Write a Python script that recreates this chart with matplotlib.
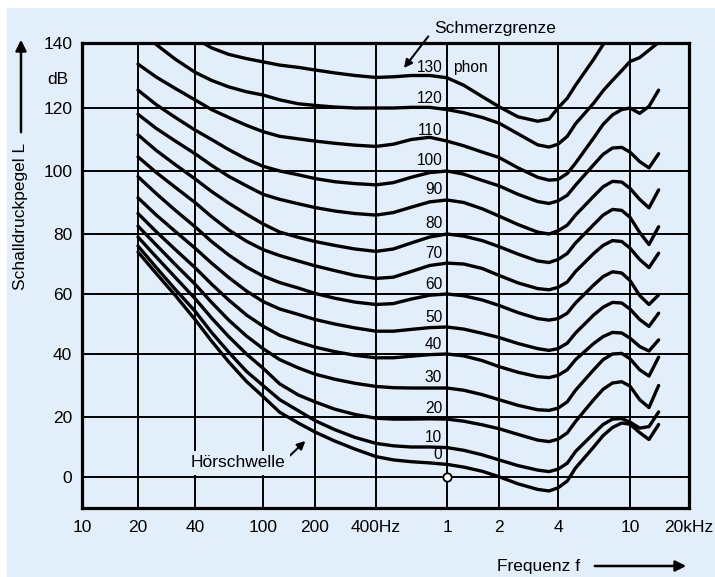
import numpy as np
import matplotlib
matplotlib.use("Agg")
import matplotlib.pyplot as plt
from matplotlib.patches import Rectangle, FancyArrowPatch

plt.rcParams['font.family'] = ['Liberation Sans', 'DejaVu Sans']

# ---------------- data ----------------
FREQ = [20, 25, 31.5, 40, 50, 63, 80, 100, 125, 160, 200, 250, 315, 400, 500, 630, 800,
        1000, 1250, 1600, 2000, 2500, 3150, 3600, 4000, 4500, 5000, 6300, 7100, 8000, 9000,
        10000, 11200, 12500, 14000]

L130 = [154, 150, 146, 141.5, 138.5, 136.5, 135.2, 134.2, 133.2, 132.5, 131.7, 130.8, 130, 129.4,
        129.6, 130, 130, 129.3, 127, 123.5, 120.4, 117.2, 115.8, 116.5, 120, 123, 127, 135, 139.5,
        144, 148, 152, 155, 158, 160]
L120 = [144, 139.5, 135, 131, 128.5, 126.5, 125, 124, 122.5, 121.3, 120.8, 120.3, 120, 120, 120,
        120.2, 120.2, 119.5, 118.5, 117, 115.2, 111.8, 108.3, 107.6, 108.5, 111, 115, 121.5, 125.3,
        128.5, 131.5, 134.3, 135.5, 137.8, 140.2]
L110 = [133.5, 129.5, 126, 122.5, 119.5, 117, 114.5, 112.5, 111, 110.2, 109.5, 108.8, 108.2, 107.8,
        108.5, 110, 110.7, 109.5, 108, 106, 104.3, 101, 98, 97.1, 97.3, 99.2, 102.5, 110.5, 114.8,
        117.8, 119.5, 120, 118.3, 120.5, 125.5]
L100 = [125.5, 121, 117, 113, 110, 106.8, 103.8, 101.5, 100, 98.8, 97.6, 96.6, 96, 95.6, 96.3, 98,
        99.5, 100, 99, 97, 95.3, 92.6, 90.3, 89.7, 90.5, 92.3, 95.5, 102, 105.3, 107.3, 107.5, 106,
        103, 101, 105.5]
L90 = [118, 113.5, 109.5, 105.5, 101.8, 98.3, 95.3, 92.6, 91, 89.6, 88.4, 87.3, 86.5, 86, 86.8,
       88.5, 90.2, 90.8, 90, 88, 85.7, 83, 80.6, 80, 81, 82.8, 86, 92, 95, 96.7, 96.5, 94.5, 91,
       88.3, 94]
L80 = [111.5, 106.5, 102, 97.5, 93.5, 89.8, 86.3, 83.2, 80.6, 78.9, 77.5, 76.2, 75, 74.2, 75, 77,
       79, 80, 79.3, 77.8, 75.8, 73.3, 71, 70.5, 71.5, 73.5, 77, 83, 86, 87.8, 87.5, 85.3, 80.5,
       76.5, 82.3]
L70 = [104.5, 99.5, 94.8, 90, 85.5, 81.3, 77.6, 74.8, 72.8, 71, 69.4, 67.8, 66.2, 65.2, 65.6, 67.5,
       69.5, 70.3, 70, 68.5, 66.2, 63.7, 61.8, 61.4, 62.2, 64, 67.5, 73.5, 76.2, 77.8, 77.5, 75.3,
       71.5, 68.8, 73.6]
L60 = [98.2, 92.8, 87.5, 82.3, 77.5, 73, 69, 66, 63.8, 62, 60.2, 58.6, 57.3, 56.5, 56.8, 58.3,
       59.6, 60, 59.4, 58, 56.2, 53.8, 51.8, 51.3, 51.8, 53.6, 57, 63, 65.8, 67.4, 67, 64.5, 59.5,
       56.5, 59.7]
L50 = [91.5, 86, 80.8, 75.3, 70.3, 65.5, 61, 57.5, 55, 53.2, 51.5, 50, 48.7, 47.6, 47.6, 48.2,
       48.8, 49, 48.3, 46.9, 45.5, 43.5, 41.8, 41.2, 41.8, 43.6, 47, 53, 55.6, 57.2, 57, 55, 51.5,
       49.2, 53.6]
L40 = [86.5, 80.7, 74.8, 68.8, 63.3, 58, 53, 49.3, 46.2, 44, 42.3, 40.8, 39.6, 38.8, 38.8, 39.3,
       39.8, 40, 39.4, 37.9, 36, 34.2, 32.8, 32.5, 33.2, 35, 38.2, 43.5, 45.8, 47.2, 47, 45.3, 42.5,
       41, 44.7]
L30 = [82.5, 76.3, 69.8, 63.3, 57.2, 51.3, 46, 41.8, 38.2, 35.6, 33.6, 32, 30.7, 29.7, 29.3, 29.2,
       29.2, 29.2, 28.5, 27.1, 25.5, 23.7, 22.3, 22.1, 22.8, 24.8, 28.5, 35, 38.2, 40, 40.2, 38.5,
       35, 33, 39]
L20 = [79, 72.3, 65.5, 58.5, 52, 45.8, 40, 35.5, 30.5, 27, 24.8, 22.5, 20.8, 19.6, 19.3, 19.3,
       19.4, 19.3, 18.6, 17.4, 16.1, 14.2, 12.3, 11.8, 12.6, 14.7, 18.5, 25.5, 28.8, 30.8, 31.2,
       29.8, 25.5, 23, 30]
L10 = [76, 68.8, 61.5, 54.3, 47.2, 40.6, 34.5, 30, 25.5, 22, 18.8, 15.8, 13.2, 11.2, 10.4, 10, 10,
       9.8, 8.9, 7.4, 5.7, 3.8, 2.3, 1.8, 2.6, 4.6, 8.5, 14.5, 17.5, 19.3, 19.5, 18.3, 16.3, 16.8,
       21.6]
L0 = [74, 66.8, 59.5, 51.5, 44.3, 37.5, 31.3, 26.5, 21.5, 18, 15, 12, 9.3, 6.8, 5.7, 5.1, 4.7,
      4.2, 3.3, 1.9, 0.1, -2.2, -4, -4.5, -3.5, -1.3, 3, 10, 13.8, 16.5, 18, 17.6, 14.8, 12.5,
      17.5]

PHON = [130, 120, 110, 100, 90, 80, 70, 60, 50, 40, 30, 20, 10, 0]
CURVES = [L130, L120, L110, L100, L90, L80, L70, L60, L50, L40, L30, L20, L10, L0]

X_TICKS = [10, 20, 40, 100, 200, 400, 1000, 2000, 4000, 10000, 20000]
X_TICKLABELS = ['10', '20', '40', '100', '200', '400Hz', '1', '2', '4', '10', '20kHz']
Y_TICKS = [0, 20, 40, 60, 80, 100, 120, 140]
REF_FREQ = 1000
REF_LEVEL = 0

# ------------- axis geometry of the hand-drawn grid -------------
X_GRID_POS = [0, 56, 113, 181, 233, 294, 365, 417, 476, 548, 607]
Y_GRID_DB = [-10, 0, 20, 40, 60, 80, 100, 120, 140]
Y_GRID_POS = [0, 31, 91, 154, 214, 274, 337, 400, 465]


def make_warp(src, dst):
    src = np.asarray(src, float)
    dst = np.asarray(dst, float)
    lo = (dst[1] - dst[0]) / (src[1] - src[0])
    hi = (dst[-1] - dst[-2]) / (src[-1] - src[-2])

    def f(v):
        v = np.asarray(v, float)
        out = np.interp(v, src, dst)
        out = np.where(v < src[0], dst[0] + (v - src[0]) * lo, out)
        out = np.where(v > src[-1], dst[-1] + (v - src[-1]) * hi, out)
        return out
    return f


_lx = np.log10(X_TICKS)
_xf = make_warp(_lx, X_GRID_POS)
_xi = make_warp(X_GRID_POS, _lx)
_yf = make_warp(Y_GRID_DB, Y_GRID_POS)
_yi = make_warp(Y_GRID_POS, Y_GRID_DB)


def x_fwd(f):
    return _xf(np.log10(np.clip(np.asarray(f, float), 1e-6, None)))


def x_inv(u):
    return 10 ** _xi(u)


BG = '#E2EEF9'
W, H = 715, 577

fig = plt.figure(figsize=(W / 100, H / 100), dpi=100, facecolor='white')
fig.patches.append(Rectangle((7 / W, 0), 1 - 7 / W, 1 - 8 / H, transform=fig.transFigure,
                             facecolor=BG, edgecolor='none', zorder=-10))

ax = fig.add_axes([82 / W, 1 - 508 / H, 607 / W, 465 / H])
ax.set_facecolor(BG)
ax.set_xscale('function', functions=(x_fwd, x_inv))
ax.set_yscale('function', functions=(_yf, _yi))
ax.set_xlim(10, 20000)
ax.set_ylim(-10, 140)

ax.set_xticks(X_TICKS)
ax.set_xticklabels(X_TICKLABELS)
ax.set_yticks(Y_TICKS)
ax.set_yticklabels([str(v) for v in Y_TICKS])
ax.minorticks_off()
ax.tick_params(axis='both', length=0, labelsize=12.5, colors='black')
ax.tick_params(axis='x', pad=9)
ax.tick_params(axis='y', pad=7)

ax.set_axisbelow(True)
ax.grid(True, color='black', lw=1.4)
for s in ax.spines.values():
    s.set_linewidth(2.3)
    s.set_color('black')

for phon, lev in zip(PHON, CURVES):
    ax.plot(FREQ, lev, color='black', lw=2.4, solid_capstyle='round',
            solid_joinstyle='round', zorder=3)
    y1k = lev[FREQ.index(1000)]
    ax.annotate(str(phon), xy=(1000, y1k + 3.3), xytext=(-3.5, 0), textcoords='offset points',
                ha='right', va='center', fontsize=11.2, zorder=4)

ax.annotate('phon', xy=(1000, L130[FREQ.index(1000)] + 3.3), xytext=(4.5, 0),
            textcoords='offset points', ha='left', va='center', fontsize=11.2, zorder=4)

ax.plot([REF_FREQ], [REF_LEVEL], 'o', ms=6, mfc='white', mec='black', mew=1.3, zorder=5,
        clip_on=False)

ax.annotate('Hörschwelle', xy=(176, 12), xytext=(134, 4.7), ha='right', va='center',
            fontsize=12.5, zorder=6,
            bbox=dict(boxstyle='square,pad=0.28', fc=BG, ec='none'),
            arrowprops=dict(arrowstyle='-|>', color='black', lw=1.5, mutation_scale=12,
                            shrinkA=0, shrinkB=0, relpos=(0.97, 0.5)))

ax.annotate('Schmerzgrenze', xy=(574, 132.3), xytext=(850, 144.5), ha='left', va='center',
            fontsize=12.5, annotation_clip=False, zorder=6,
            arrowprops=dict(arrowstyle='-|>', color='black', lw=1.5, mutation_scale=12,
                            shrinkA=4, shrinkB=0, relpos=(0, 0.5)))

fig.text(58 / W, 1 - 79 / H, 'dB', ha='center', va='center', fontsize=12.5)
fig.text(21 / W, 1 - 216 / H, 'Schalldruckpegel L', rotation=90, ha='center', va='center',
         fontsize=12.5)
fig.add_artist(FancyArrowPatch(
    (21 / W, 1 - 135 / H), (21 / W, 1 - 37 / H), transform=fig.transFigure,
    arrowstyle='-|>', mutation_scale=16, lw=1.8, color='black'))

fig.text(497 / W, 1 - 567 / H, 'Frequenz f', ha='left', va='center', fontsize=12.5)
fig.add_artist(FancyArrowPatch(
    (592 / W, 1 - 566 / H), (689 / W, 1 - 566 / H), transform=fig.transFigure,
    arrowstyle='-|>', mutation_scale=16, lw=1.8, color='black'))

fig.savefig('out.png', dpi=100, facecolor=fig.get_facecolor())
